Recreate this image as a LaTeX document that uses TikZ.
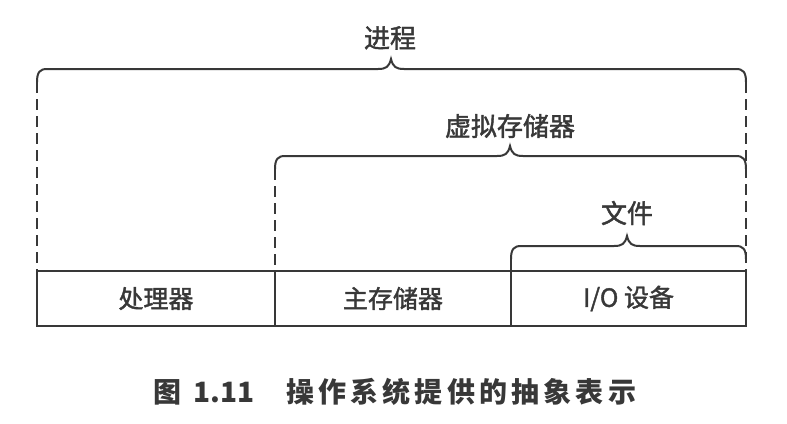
\documentclass[tikz,border=0pt]{standalone}
\usepackage{fontspec}
\newfontfamily\cjk[FakeBold=1.6]{Noto Sans CJK SC}
\newfontfamily\cjkb{Noto Sans CJK SC}
\newfontfamily\cjksp[LetterSpace=15]{Noto Sans CJK SC}
\definecolor{ink}{HTML}{383838}
\newcommand\mybrace[4]{%
  \draw[brc] (#1,#3+13) .. controls (#1,#3+3) and (#1+3,#3) .. (#1+10,#3)
    -- (#4-13,#3) .. controls (#4-5,#3) and (#4-2,#3-2) .. (#4,#3-10)
    .. controls (#4+2,#3-2) and (#4+5,#3) .. (#4+13,#3)
    -- (#2-10,#3) .. controls (#2-3,#3) and (#2,#3+3) .. (#2,#3+13);}
\begin{document}
\begin{tikzpicture}[x=1pt,y=-1pt,line cap=round,
  box/.style={draw=ink, line width=2.8pt, minimum height=55pt, inner sep=0pt,
    text=ink, font=\cjk\fontsize{25}{25}\selectfont},
  lbl/.style={text=ink, inner sep=0pt, font=\cjk\fontsize{26}{26}\selectfont},
  brc/.style={draw=ink, line width=2pt},
  dsh/.style={draw=ink, line width=2pt, line cap=butt, dash pattern=on 11pt off 6pt}]
\useasboundingbox[fill=white] (0,0) rectangle (787,423);
% boxes
\node[box, minimum width=238pt] (proc) at (156,298.5) {处理器};
\node[box, minimum width=236pt] (mem) at (393,298.5) {主存储器};
\node[box, minimum width=235pt] (io) at (628.5,298.5) {I/O 设备};
% labels
\node[lbl] (jc) at (390,38) {进程};
\node[lbl] (xn) at (510,126) {虚拟存储器};
\node[lbl] (wj) at (627,213) {文件};
% braces
\mybrace{37}{746}{69}{391}
\mybrace{275}{746}{156}{510}
\mybrace{511}{746}{246}{627}
\coordinate (a1) at (37,82);
\coordinate (a2) at (746,82);
\coordinate (b1) at (275,169);
\coordinate (c1) at (511,259);
\draw[dsh] (a1) -- (a1 |- proc.north);
\draw[dsh] (a2) -- (a2 |- io.north);
\draw[dsh] (b1) -- (b1 |- mem.north);
\draw[dsh] (c1) -- (c1 |- io.north);
% caption
\node[text=ink, anchor=west, inner sep=0pt, font=\cjkb\bfseries\fontsize{28}{28}\selectfont] (cap1) at (153,392) {图\hspace{0.45em}1.11};
\node[text=ink, anchor=west, inner sep=0pt, font=\cjksp\bfseries\fontsize{28}{28}\selectfont] (cap2) at (286,392) {操作系统提供的抽象表示};
\end{tikzpicture}
\end{document}
